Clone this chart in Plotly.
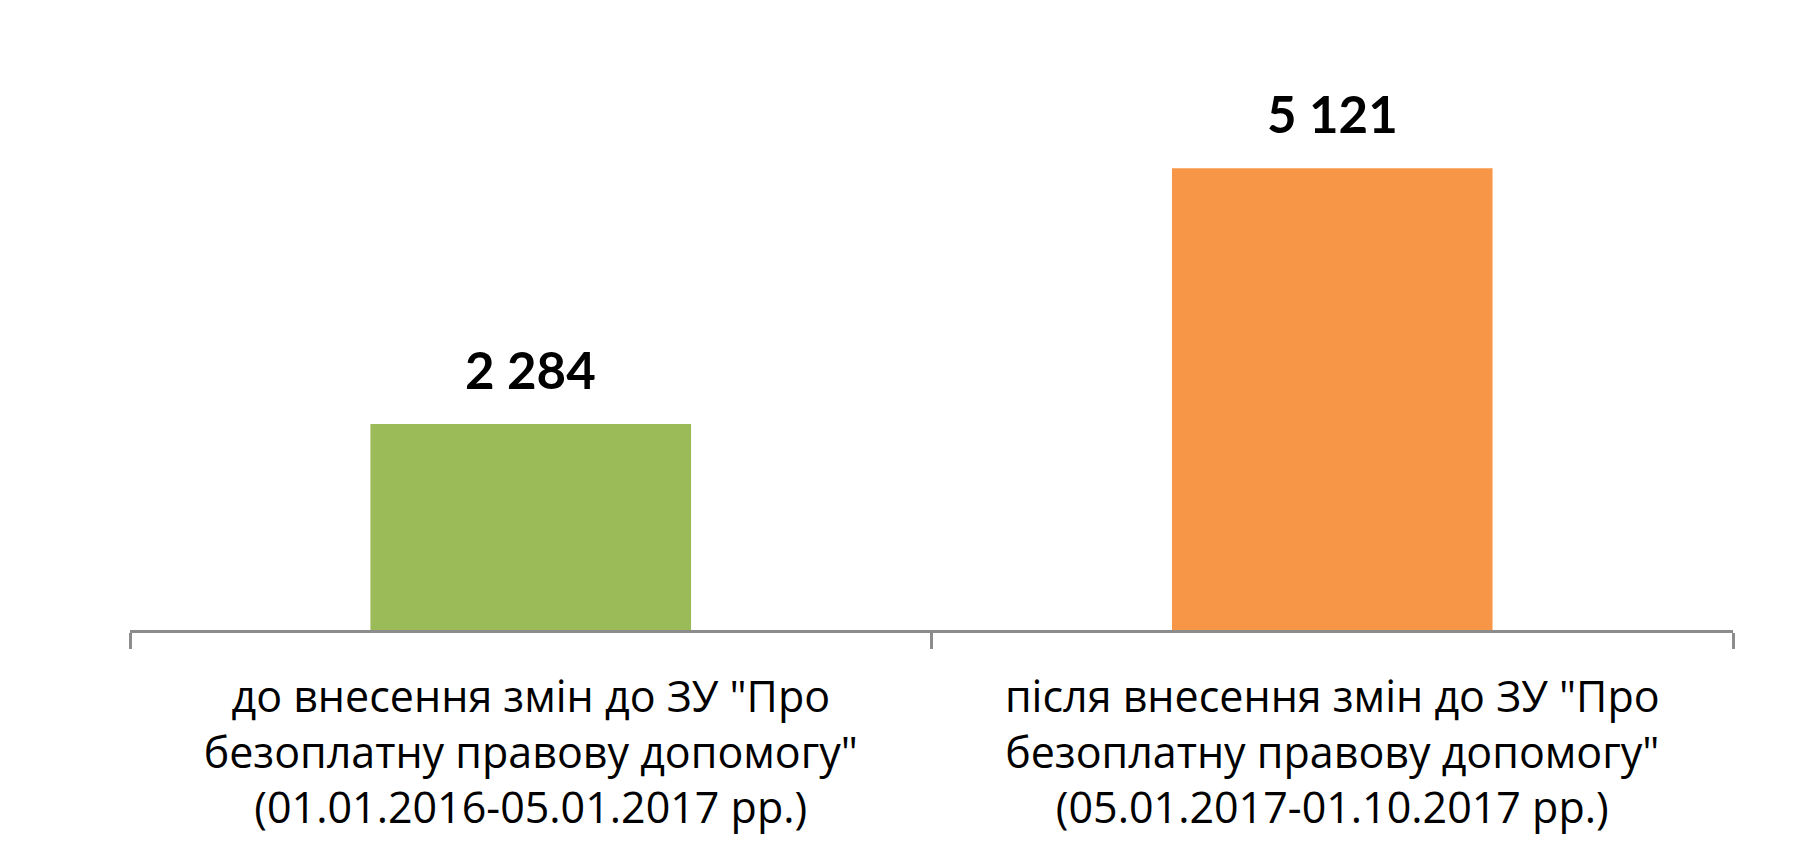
import plotly.graph_objects as go

categories = [
    'до внесення змін до ЗУ "Про<br>безоплатну правову допомогу"<br>(01.01.2016-05.01.2017 рр.)',
    'після внесення змін до ЗУ "Про<br>безоплатну правову допомогу"<br>(05.01.2017-01.10.2017 рр.)',
]
values = [2284, 5121]
value_labels = ["2 284", "5 121"]
colors = ["#9BBB59", "#F79646"]

fig = go.Figure()
fig.add_trace(go.Bar(
    x=categories,
    y=values,
    marker=dict(color=colors, line=dict(width=0)),
    hoverinfo="skip",
))

for c, v, t in zip(categories, values, value_labels):
    fig.add_annotation(
        x=c, y=v, text="<b>" + t + "</b>", showarrow=False,
        yanchor="bottom", yshift=22,
        font=dict(family="Lato", size=51, color="#000000"),
    )

fig.update_layout(
    width=1808, height=863,
    margin=dict(l=130, r=75, t=89, b=233),
    paper_bgcolor="white", plot_bgcolor="white",
    bargap=0.6,
    showlegend=False,
    font=dict(family="Open Sans", color="#000000"),
)
fig.update_xaxes(
    showline=True, linecolor="#8C8C8C", linewidth=3,
    ticks="outside", ticklen=16, tickwidth=3, tickcolor="#8C8C8C",
    tickson="boundaries",
    tickfont=dict(family="Open Sans", size=43, color="#000000"),
    ticklabelstandoff=27,
    showgrid=False, zeroline=False,
)
fig.update_yaxes(
    range=[0, 6000], visible=False, showgrid=False, zeroline=False,
)

fig.write_html("out.html")
